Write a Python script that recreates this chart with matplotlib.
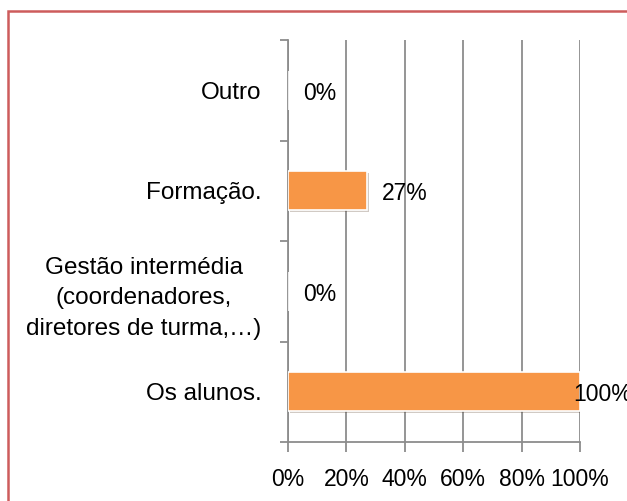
import matplotlib
matplotlib.use("Agg")
import matplotlib.pyplot as plt
import matplotlib.patheffects as pe
from matplotlib.patches import Rectangle

categories = ["Os alunos.", "Gestão intermédia\n(coordenadores,\ndiretores de turma,…)",
              "Formação.", "Outro"]
values = [100, 0, 27, 0]
value_labels = ["100%", "0%", "27%", "0%"]
xticks = [0, 20, 40, 60, 80, 100]

plt.rcParams['font.family'] = ['Liberation Sans', 'DejaVu Sans']

fig = plt.figure(figsize=(6.27, 5.01), dpi=100)
ax = fig.add_axes([288/627, 1-442/501, 292/627, 402/501])

ypos = range(len(categories))
bars = ax.barh(ypos, values, height=0.39, color='#F79646', edgecolor='white', linewidth=1.2, zorder=3)
for b in bars:
    b.set_path_effects([pe.SimplePatchShadow(offset=(1.2, -1.2), alpha=0.25), pe.Normal()])

ax.set_xlim(0, 100)
ax.set_ylim(-0.5, len(categories) - 0.5)
ax.set_xticks(xticks)
ax.set_xticklabels([f"{t}%" for t in xticks], fontsize=16.5)
ax.xaxis.grid(True, color='#8c8c8c', linewidth=1.3, zorder=0)

# category boundaries as major ticks, names as minor ticks
ax.set_yticks([i - 0.5 for i in range(len(categories) + 1)])
ax.set_yticklabels([])
ax.set_yticks(list(ypos), minor=True)
ax.set_yticklabels(categories, minor=True, fontsize=17.5, linespacing=1.5, ha='right')
for lab in ax.get_yticklabels(minor=True):
    lab.set_multialignment('center')
ax.tick_params(axis='y', which='minor', length=0, pad=19)
ax.tick_params(axis='y', which='major', length=6, width=1.3, color='#8c8c8c', direction='out')
ax.tick_params(axis='x', length=7, width=1.3, color='#8c8c8c', direction='out', pad=12)

for s in ['top', 'right']:
    ax.spines[s].set_visible(False)
for s in ['left', 'bottom']:
    ax.spines[s].set_color('#8c8c8c')
    ax.spines[s].set_linewidth(1.3)

for i, (v, lab) in enumerate(zip(values, value_labels)):
    if v >= 100:
        ax.annotate(lab, (v, i), xytext=(-5, -2), textcoords='offset points',
                    ha='left', va='center', fontsize=16.5, zorder=4, annotation_clip=False)
    else:
        ax.annotate(lab, (v, i), xytext=(11, -2), textcoords='offset points',
                    ha='left', va='center', fontsize=16.5, zorder=4)

# red frame, cut off at right and bottom
fig.patches.append(Rectangle((7.5/627, -0.1), 1.2, 1 - 10.5/501 + 0.1,
                             transform=fig.transFigure, fill=False,
                             edgecolor='#CD5C5C', linewidth=1.8))

fig.savefig("out.png", dpi=100)
